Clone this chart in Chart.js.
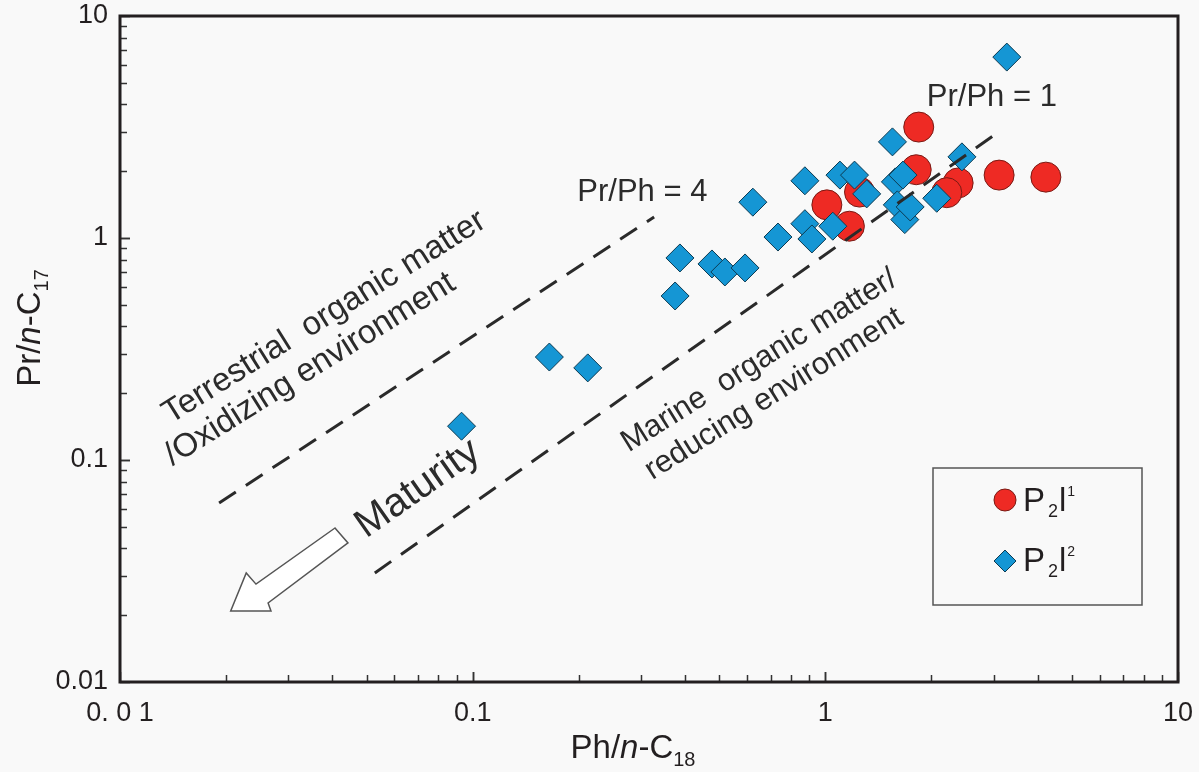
<!DOCTYPE html>
<html>
<head>
<meta charset="utf-8">
<title>Pr/n-C17 vs Ph/n-C18</title>
<script src="https://cdn.jsdelivr.net/npm/chart.js@4.4.0/dist/chart.umd.min.js"></script>
<style>
  html, body { margin: 0; padding: 0; background: #f9f9f9; }
  #wrap { width: 1199px; height: 772px; }
</style>
</head>
<body>
<div id="wrap"><canvas id="myChart" width="1199" height="772"></canvas></div>
<script>
// P2l1 samples (red circles)
const p2l1X = [1.01, 1.17, 1.25, 1.84, 1.81, 2.38, 2.21, 3.11, 4.22];
const p2l1Y = [1.41, 1.13, 1.61, 3.16, 2.03, 1.77, 1.60, 1.92, 1.88];

// P2l2 samples (blue diamonds)
const p2l2X = [0.093, 0.165, 0.212, 0.375, 0.387, 0.477, 0.519, 0.592, 0.623, 0.734, 0.875, 0.875, 0.916,
               1.05, 1.10, 1.21, 1.31, 1.55, 1.58, 1.60, 1.66, 1.68, 1.74, 2.07, 2.44, 3.27];
const p2l2Y = [0.142, 0.291, 0.260, 0.548, 0.813, 0.764, 0.703, 0.733, 1.45, 1.01, 1.81, 1.16, 0.99,
               1.13, 1.92, 1.92, 1.58, 2.71, 1.79, 1.41, 1.92, 1.21, 1.38, 1.51, 2.32, 6.53];

// dashed guide lines
const line4X = [0.0191, 0.327];
const line4Y = [0.064, 1.243];
const line1X = [0.0528, 3.07];
const line1Y = [0.031, 2.97];

const xTickValues = [0.01, 0.1, 1, 10];
const xTickLabels = ['0. 0 1', '0.1', '1', '10'];
const yTickValues = [0.01, 0.1, 1, 10];
const yTickLabels = ['0.01', '0.1', '1', '10'];

// text notes inside the plot (anchor = start of baseline, in data units)
const noteText = ['Terrestrial  organic matter', '/Oxidizing environment', 'Marine  organic matter/',
                  'reducing environment', 'Maturity', 'Pr/Ph = 4', 'Pr/Ph = 1'];
const noteX = [0.0139, 0.0141, 0.277, 0.323, 0.0498, 0.198, 1.94];
const noteY = [0.145, 0.094, 0.108, 0.081, 0.0442, 1.47, 3.93];
const noteAngle = [-32, -32, -32, -32, -35, 0, 0];
const noteSize = [33, 33, 31, 31, 40, 31, 31];

// hollow "maturity" arrow outline
const arrowX = [0.0407, 0.0243, 0.0228, 0.0206, 0.0268, 0.0263, 0.0443];
const arrowY = [0.0494, 0.0276, 0.0310, 0.0209, 0.0209, 0.0227, 0.0423];

const SANS = "'Liberation Sans', Arial, sans-serif";
const NARROW = "'Liberation Sans Narrow', 'Arial Narrow', 'Liberation Sans', Arial, sans-serif";
const INK = '#231f20';

const toPts = (xs, ys) => xs.map((x, i) => ({ x: x, y: ys[i] }));

function richText(ctx, parts, x, y) {
  let w = 0;
  parts.forEach(p => { ctx.font = p[1]; w += ctx.measureText(p[0]).width; });
  let cx = x - w / 2;
  parts.forEach(p => {
    ctx.font = p[1];
    ctx.fillText(p[0], cx, y + (p[2] || 0));
    cx += ctx.measureText(p[0]).width;
  });
}

function legendLabel(ctx, x, y, sup) {
  const parts = [['P', '33px ' + NARROW, 0], ['2', '18px ' + NARROW, 6], ['l', '33px ' + NARROW, 0], [sup, '14px ' + NARROW, -15]];
  let cx = x;
  parts.forEach((p, i) => {
    ctx.font = p[1];
    ctx.fillText(p[0], cx, y + p[2]);
    cx += ctx.measureText(p[0]).width + (i === 0 ? 3 : 1);
  });
}

const decor = {
  id: 'decor',
  beforeDraw(chart) {
    const ctx = chart.ctx;
    ctx.save();
    ctx.fillStyle = '#f9f9f9';
    ctx.fillRect(0, 0, chart.width, chart.height);
    ctx.restore();
  },
  beforeDatasetsDraw(chart) {
    const ctx = chart.ctx, xs = chart.scales.x, ys = chart.scales.y;
    ctx.save();
    ctx.fillStyle = '#2b2b2b';
    ctx.textAlign = 'left';
    ctx.textBaseline = 'alphabetic';
    noteText.forEach((t, i) => {
      ctx.save();
      ctx.translate(xs.getPixelForValue(noteX[i]), ys.getPixelForValue(noteY[i]));
      ctx.rotate(noteAngle[i] * Math.PI / 180);
      ctx.font = noteSize[i] + 'px ' + SANS;
      ctx.fillText(t, 0, 0);
      ctx.restore();
    });
    // arrow
    ctx.beginPath();
    arrowX.forEach((v, i) => {
      const px = xs.getPixelForValue(v), py = ys.getPixelForValue(arrowY[i]);
      if (i === 0) ctx.moveTo(px, py); else ctx.lineTo(px, py);
    });
    ctx.closePath();
    ctx.fillStyle = '#ffffff';
    ctx.fill();
    ctx.strokeStyle = '#555555';
    ctx.lineWidth = 1.5;
    ctx.stroke();
    ctx.restore();
  },
  afterDraw(chart) {
    const ctx = chart.ctx, a = chart.chartArea, xs = chart.scales.x, ys = chart.scales.y;
    ctx.save();
    // inward ticks on left and bottom
    ctx.strokeStyle = '#333333';
    ctx.lineWidth = 1.5;
    [0.01, 0.1, 1].forEach(d => {
      for (let m = 1; m <= 10; m++) {
        const v = m * d;
        const len = (m === 1 || m === 10) ? 10 : 7;
        const px = Math.round(xs.getPixelForValue(v)) + 0.5;
        const py = Math.round(ys.getPixelForValue(v)) + 0.5;
        ctx.beginPath();
        ctx.moveTo(px, a.bottom); ctx.lineTo(px, a.bottom - len);
        ctx.moveTo(a.left, py); ctx.lineTo(a.left + len, py);
        ctx.stroke();
      }
    });
    // frame
    ctx.strokeStyle = INK;
    ctx.lineWidth = 3;
    ctx.strokeRect(a.left, a.top, a.right - a.left, a.bottom - a.top);

    // legend
    const lx = a.right - 245, ly = a.bottom - 214;
    ctx.strokeStyle = '#555555';
    ctx.lineWidth = 1.5;
    ctx.strokeRect(lx, ly, 209, 137);
    ctx.beginPath();
    ctx.arc(lx + 72, ly + 32, 11, 0, Math.PI * 2);
    ctx.fillStyle = '#ee2a24';
    ctx.fill();
    ctx.strokeStyle = '#7a1a14';
    ctx.lineWidth = 1;
    ctx.stroke();
    ctx.beginPath();
    ctx.moveTo(lx + 72, ly + 82); ctx.lineTo(lx + 83, ly + 93);
    ctx.lineTo(lx + 72, ly + 104); ctx.lineTo(lx + 61, ly + 93);
    ctx.closePath();
    ctx.fillStyle = '#1596d4';
    ctx.fill();
    ctx.strokeStyle = '#0d3b52';
    ctx.stroke();
    ctx.fillStyle = INK;
    ctx.textAlign = 'left';
    ctx.textBaseline = 'alphabetic';
    legendLabel(ctx, lx + 90, ly + 43, '1');
    legendLabel(ctx, lx + 90, ly + 103, '2');

    // axis titles
    const big = '33px ' + SANS, bigI = 'italic 33px ' + SANS, sub = '20px ' + SANS;
    richText(ctx, [['Ph/', big], ['n', bigI], ['-C', big], ['18', sub, 8]], (a.left + a.right) / 2 - 16, a.bottom + 76);
    ctx.translate(40, 328);
    ctx.rotate(-Math.PI / 2);
    richText(ctx, [['Pr/', big], ['n', bigI], ['-C', big], ['17', sub, 8]], 0, 0);
    ctx.restore();
  }
};

const ctx = document.getElementById('myChart');
new Chart(ctx, {
  type: 'scatter',
  data: {
    datasets: [
      {
        label: 'Pr/Ph = 4',
        data: toPts(line4X, line4Y),
        showLine: true,
        borderColor: '#2a2a2a',
        borderWidth: 3,
        borderDash: [20, 12],
        pointRadius: 0,
        order: 0
      },
      {
        label: 'Pr/Ph = 1',
        data: toPts(line1X, line1Y),
        showLine: true,
        borderColor: '#2a2a2a',
        borderWidth: 3,
        borderDash: [20, 12],
        pointRadius: 0,
        order: 0
      },
      {
        label: 'P2l2',
        data: toPts(p2l2X, p2l2Y),
        pointStyle: 'rectRot',
        pointRadius: 14,
        backgroundColor: '#1596d4',
        borderColor: '#0d3b52',
        borderWidth: 1,
        order: 1
      },
      {
        label: 'P2l1',
        data: toPts(p2l1X, p2l1Y),
        pointStyle: 'circle',
        pointRadius: 15,
        backgroundColor: '#ee2a24',
        borderColor: '#7a1a14',
        borderWidth: 1,
        order: 2
      }
    ]
  },
  options: {
    responsive: false,
    animation: false,
    devicePixelRatio: 1,
    layout: { padding: { left: 0, top: 16, right: 21, bottom: 0 } },
    plugins: { legend: { display: false }, tooltip: { enabled: false } },
    scales: {
      x: {
        type: 'logarithmic',
        min: 0.01,
        max: 10,
        afterBuildTicks: s => { s.ticks = xTickValues.map(v => ({ value: v })); },
        afterFit: s => { s.height = 90; s.paddingLeft = 0; s.paddingRight = 0; },
        grid: { display: false, drawTicks: false },
        border: { display: false },
        ticks: {
          autoSkip: false,
          maxRotation: 0,
          padding: 15,
          color: INK,
          font: { family: NARROW, size: 27 },
          callback: (v, i) => xTickLabels[i]
        }
      },
      y: {
        type: 'logarithmic',
        min: 0.01,
        max: 10,
        afterBuildTicks: s => { s.ticks = yTickValues.map(v => ({ value: v })); },
        afterFit: s => { s.width = 120; s.paddingTop = 0; s.paddingBottom = 0; },
        grid: { display: false, drawTicks: false },
        border: { display: false },
        ticks: {
          autoSkip: false,
          padding: 12,
          color: INK,
          font: { family: NARROW, size: 27 },
          callback: (v, i) => yTickLabels[i]
        }
      }
    }
  },
  plugins: [decor]
});
</script>
</body>
</html>
